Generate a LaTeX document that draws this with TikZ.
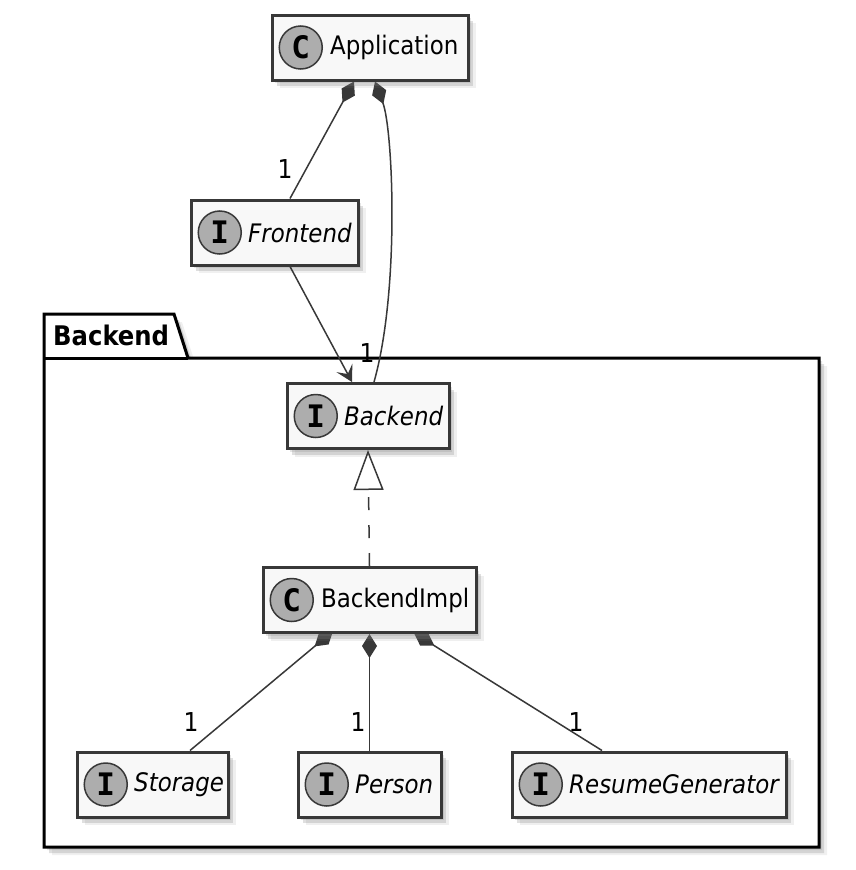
\documentclass[tikz,border=0pt]{standalone}
\usepackage{fontspec}
\setmainfont{DejaVu Sans Condensed}[ItalicFont={DejaVu Sans Condensed Oblique},BoldFont={DejaVu Sans Condensed Bold}]
\newfontfamily\iconfont{DejaVu Sans Mono}
\usetikzlibrary{arrows.meta,shadows,positioning}
\definecolor{umlborder}{HTML}{383838}
\definecolor{umlfill}{HTML}{F8F8F8}
\definecolor{umlicon}{HTML}{ADADAD}
\pgfdeclarelayer{background}
\pgfdeclarelayer{edges}
\pgfsetlayers{background,edges,main}
\begin{document}
\begin{tikzpicture}[x=1pt,y=-1pt]
\tikzstyle{every node}=[font=\fontsize{25.5}{28}\selectfont]
\tikzstyle{umlshadow}=[drop shadow={shadow xshift=3pt,shadow yshift=-3pt,opacity=0.2},
  drop shadow={shadow xshift=5pt,shadow yshift=-6pt,opacity=0.25},
  drop shadow={shadow xshift=8pt,shadow yshift=-8pt,opacity=0.12}]
\tikzstyle{umlclass}=[draw=umlborder,line width=3pt,fill=umlfill,minimum height=65pt,inner sep=0pt,umlshadow]
\tikzstyle{umlicon}=[circle,draw=umlborder,line width=1.5pt,fill=umlicon,minimum size=43pt,inner sep=0pt,font=\iconfont\bfseries\fontsize{31}{32}\selectfont]
\tikzstyle{umltext}=[inner sep=0pt]
\tikzstyle{umliface}=[inner sep=0pt,font=\fontsize{25.5}{28}\selectfont\itshape]
\tikzstyle{mult}=[inner sep=0pt,font=\fontsize{26}{28}\selectfont]
\tikzstyle{composition}=[draw=umlborder,line width=1.5pt,{Diamond[length=24pt,width=15pt,fill=umlborder]}-]
\tikzstyle{association}=[draw=umlborder,line width=1.5pt,-{Stealth[length=16pt,width=18pt,inset=7pt]}]
\tikzstyle{realization}=[draw=umlborder,line width=1.5pt,dash pattern=on 13pt off 15pt,-{Triangle[length=40pt,width=30pt,open,fill=white]}]
\useasboundingbox (0,0) rectangle (856,870);
% package frame
\begin{pgfonlayer}{background}
\draw[line width=3pt,fill=white,umlshadow] (44,314) -- (174,314) -- (188,358) -- (819,358) -- (819,847) -- (44,847) -- cycle;
\draw[line width=3pt] (44,358) -- (188,358);
\node[umltext,anchor=west,font=\fontsize{27}{30}\selectfont\bfseries] (BackendPkgName) at (53,335) {Backend};
\end{pgfonlayer}
% classes
\node[umlclass,minimum width=196pt] (Application) at (370,47.5) {};
\node[umlicon,right=8pt of Application.west] (ApplicationIcon) {C};
\node[umltext,right=7pt of ApplicationIcon] (ApplicationName) {Application};
\node[umlclass,minimum width=167pt] (Frontend) at (274.5,232.5) {};
\node[umlicon,right=8pt of Frontend.west] (FrontendIcon) {I};
\node[umliface,right=6pt of FrontendIcon] (FrontendName) {Frontend};
\node[umlclass,minimum width=162pt] (Backend) at (368,416) {};
\node[umlicon,right=8pt of Backend.west] (BackendIcon) {I};
\node[umliface,right=6pt of BackendIcon] (BackendName) {Backend};
\node[umlclass,minimum width=213pt] (BackendImpl) at (369.5,600) {};
\node[umlicon,right=8pt of BackendImpl.west] (BackendImplIcon) {C};
\node[umltext,right=7pt of BackendImplIcon] (BackendImplName) {BackendImpl};
\node[umlclass,minimum width=151pt] (Storage) at (152.5,784.5) {};
\node[umlicon,right=8pt of Storage.west] (StorageIcon) {I};
\node[umliface,right=6pt of StorageIcon] (StorageName) {Storage};
\node[umlclass,minimum width=143pt] (Person) at (369.5,784.5) {};
\node[umlicon,right=8pt of Person.west] (PersonIcon) {I};
\node[umliface,right=6pt of PersonIcon] (PersonName) {Person};
\node[umlclass,minimum width=274pt] (ResumeGenerator) at (649,784.5) {};
\node[umlicon,right=8pt of ResumeGenerator.west] (ResumeGeneratorIcon) {I};
\node[umliface,right=6pt of ResumeGeneratorIcon] (ResumeGeneratorName) {ResumeGenerator};
% compositions
\begin{pgfonlayer}{edges}
\draw[composition] ([xshift=-16pt]Application.south) -- ([xshift=15.5pt]Frontend.north);
\draw[composition] ([xshift=5pt]Application.south) .. controls (393,130) and (400,290) .. ([xshift=6pt]Backend.north);
\draw[composition] ([xshift=-36.5pt,yshift=3pt]BackendImpl.south) -- ([xshift=37.5pt]Storage.north);
\draw[composition] (BackendImpl.south) -- (Person.north);
\draw[composition] ([xshift=44.5pt,yshift=1pt]BackendImpl.south) -- ([xshift=-47pt]ResumeGenerator.north);
\end{pgfonlayer}
\draw[association] ([xshift=15.5pt]Frontend.south) -- ([xshift=-16pt]Backend.north);
\draw[realization] (BackendImpl.north) -- (Backend.south);
% multiplicities
\node[mult] (FrontendMult) at (285,169) {1};
\node[mult] (BackendMult) at (367,353) {1};
\node[mult] (StorageMult) at (191,722) {1};
\node[mult] (PersonMult) at (358,722) {1};
\node[mult] (ResumeGeneratorMult) at (576,722) {1};
\end{tikzpicture}
\end{document}
